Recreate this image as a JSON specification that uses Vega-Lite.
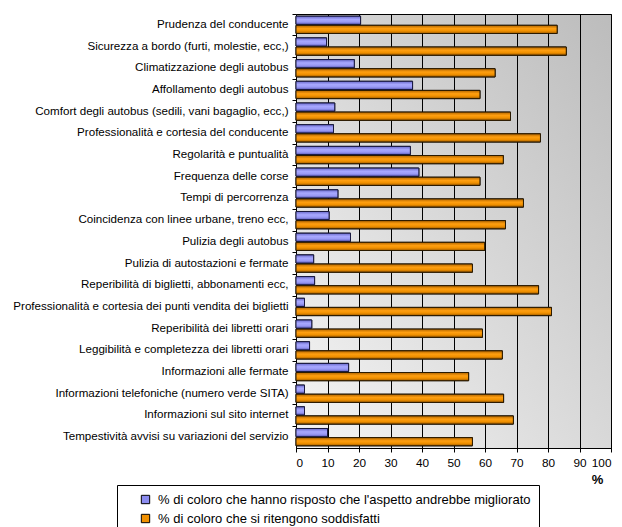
{
  "$schema": "https://vega.github.io/schema/vega-lite/v6.json",
  "width": 315,
  "height": 434,
  "autosize": {"type": "none"},
  "padding": {"left": 296, "top": 14, "right": 11, "bottom": 79},
  "background": "white",
  "config": {
    "font": "Liberation Sans",
    "view": {
      "stroke": "black",
      "strokeWidth": 1,
      "fill": {
        "gradient": "linear",
        "x1": 0, "y1": 1, "x2": 1, "y2": 0,
        "stops": [
          {"offset": 0, "color": "#f5f5f5"},
          {"offset": 1, "color": "#bcbcbc"}
        ]
      }
    },
    "axis": {
      "labelFont": "Liberation Sans",
      "labelColor": "black",
      "domainColor": "black",
      "tickColor": "black",
      "titleFont": "Liberation Sans"
    }
  },
  "data": {
    "values": [
      {"aspetto": "Prudenza del conducente", "serie": "% di coloro che hanno risposto che l'aspetto andrebbe migliorato", "valore": 20.5},
      {"aspetto": "Prudenza del conducente", "serie": "% di coloro che si ritengono soddisfatti", "valore": 82.9},
      {"aspetto": "Sicurezza a bordo (furti, molestie, ecc,)", "serie": "% di coloro che hanno risposto che l'aspetto andrebbe migliorato", "valore": 9.7},
      {"aspetto": "Sicurezza a bordo (furti, molestie, ecc,)", "serie": "% di coloro che si ritengono soddisfatti", "valore": 85.8},
      {"aspetto": "Climatizzazione degli autobus", "serie": "% di coloro che hanno risposto che l'aspetto andrebbe migliorato", "valore": 18.5},
      {"aspetto": "Climatizzazione degli autobus", "serie": "% di coloro che si ritengono soddisfatti", "valore": 63.2},
      {"aspetto": "Affollamento degli autobus", "serie": "% di coloro che hanno risposto che l'aspetto andrebbe migliorato", "valore": 37.0},
      {"aspetto": "Affollamento degli autobus", "serie": "% di coloro che si ritengono soddisfatti", "valore": 58.4},
      {"aspetto": "Comfort degli autobus (sedili, vani bagaglio, ecc,)", "serie": "% di coloro che hanno risposto che l'aspetto andrebbe migliorato", "valore": 12.3},
      {"aspetto": "Comfort degli autobus (sedili, vani bagaglio, ecc,)", "serie": "% di coloro che si ritengono soddisfatti", "valore": 68.1},
      {"aspetto": "Professionalità e cortesia del conducente", "serie": "% di coloro che hanno risposto che l'aspetto andrebbe migliorato", "valore": 11.9},
      {"aspetto": "Professionalità e cortesia del conducente", "serie": "% di coloro che si ritengono soddisfatti", "valore": 77.6},
      {"aspetto": "Regolarità e puntualità", "serie": "% di coloro che hanno risposto che l'aspetto andrebbe migliorato", "valore": 36.3},
      {"aspetto": "Regolarità e puntualità", "serie": "% di coloro che si ritengono soddisfatti", "valore": 65.8},
      {"aspetto": "Frequenza delle corse", "serie": "% di coloro che hanno risposto che l'aspetto andrebbe migliorato", "valore": 39.0},
      {"aspetto": "Frequenza delle corse", "serie": "% di coloro che si ritengono soddisfatti", "valore": 58.4},
      {"aspetto": "Tempi di percorrenza", "serie": "% di coloro che hanno risposto che l'aspetto andrebbe migliorato", "valore": 13.3},
      {"aspetto": "Tempi di percorrenza", "serie": "% di coloro che si ritengono soddisfatti", "valore": 72.2},
      {"aspetto": "Coincidenza con linee urbane, treno ecc,", "serie": "% di coloro che hanno risposto che l'aspetto andrebbe migliorato", "valore": 10.5},
      {"aspetto": "Coincidenza con linee urbane, treno ecc,", "serie": "% di coloro che si ritengono soddisfatti", "valore": 66.5},
      {"aspetto": "Pulizia degli autobus", "serie": "% di coloro che hanno risposto che l'aspetto andrebbe migliorato", "valore": 17.3},
      {"aspetto": "Pulizia degli autobus", "serie": "% di coloro che si ritengono soddisfatti", "valore": 59.9},
      {"aspetto": "Pulizia di autostazioni e fermate", "serie": "% di coloro che hanno risposto che l'aspetto andrebbe migliorato", "valore": 5.6},
      {"aspetto": "Pulizia di autostazioni e fermate", "serie": "% di coloro che si ritengono soddisfatti", "valore": 56.0},
      {"aspetto": "Reperibilità di biglietti, abbonamenti ecc,", "serie": "% di coloro che hanno risposto che l'aspetto andrebbe migliorato", "valore": 5.9},
      {"aspetto": "Reperibilità di biglietti, abbonamenti ecc,", "serie": "% di coloro che si ritengono soddisfatti", "valore": 77.0},
      {"aspetto": "Professionalità e cortesia dei punti vendita dei biglietti", "serie": "% di coloro che hanno risposto che l'aspetto andrebbe migliorato", "valore": 2.7},
      {"aspetto": "Professionalità e cortesia dei punti vendita dei biglietti", "serie": "% di coloro che si ritengono soddisfatti", "valore": 81.1},
      {"aspetto": "Reperibilità dei libretti orari", "serie": "% di coloro che hanno risposto che l'aspetto andrebbe migliorato", "valore": 5.0},
      {"aspetto": "Reperibilità dei libretti orari", "serie": "% di coloro che si ritengono soddisfatti", "valore": 59.2},
      {"aspetto": "Leggibilità e completezza dei libretti orari", "serie": "% di coloro che hanno risposto che l'aspetto andrebbe migliorato", "valore": 4.3},
      {"aspetto": "Leggibilità e completezza dei libretti orari", "serie": "% di coloro che si ritengono soddisfatti", "valore": 65.5},
      {"aspetto": "Informazioni alle fermate", "serie": "% di coloro che hanno risposto che l'aspetto andrebbe migliorato", "valore": 16.7},
      {"aspetto": "Informazioni alle fermate", "serie": "% di coloro che si ritengono soddisfatti", "valore": 54.8},
      {"aspetto": "Informazioni telefoniche (numero verde SITA)", "serie": "% di coloro che hanno risposto che l'aspetto andrebbe migliorato", "valore": 2.7},
      {"aspetto": "Informazioni telefoniche (numero verde SITA)", "serie": "% di coloro che si ritengono soddisfatti", "valore": 65.9},
      {"aspetto": "Informazioni sul sito internet", "serie": "% di coloro che hanno risposto che l'aspetto andrebbe migliorato", "valore": 2.7},
      {"aspetto": "Informazioni sul sito internet", "serie": "% di coloro che si ritengono soddisfatti", "valore": 69.0},
      {"aspetto": "Tempestività avvisi su variazioni del servizio", "serie": "% di coloro che hanno risposto che l'aspetto andrebbe migliorato", "valore": 10.0},
      {"aspetto": "Tempestività avvisi su variazioni del servizio", "serie": "% di coloro che si ritengono soddisfatti", "valore": 56.0}
    ]
  },
  "encoding": {
    "y": {
      "field": "aspetto",
      "type": "nominal",
      "sort": null,
      "scale": {"paddingInner": 0, "paddingOuter": 0},
      "axis": {
        "title": null,
        "bandPosition": 0,
        "labelFontSize": 11.6,
        "labelPadding": 4,
        "tickSize": 4,
        "labelLimit": 400,
        "grid": false,
        "domain": false
      }
    },
    "yOffset": {
      "field": "serie",
      "type": "nominal",
      "scale": {
        "domain": [
          "% di coloro che hanno risposto che l'aspetto andrebbe migliorato",
          "% di coloro che si ritengono soddisfatti"
        ],
        "paddingInner": 0.1,
        "paddingOuter": 0.24
      }
    },
    "x": {
      "field": "valore",
      "type": "quantitative",
      "scale": {"domain": [0, 100], "nice": false},
      "axis": {
        "title": "%",
        "titleFontSize": 13,
        "titleFontWeight": "bold",
        "titleAnchor": "end",
        "titleX": 301,
        "titleY": 25,
        "titleAlign": "center",
        "titleBaseline": "top",
        "values": [0, 10, 20, 30, 40, 50, 60, 70, 80, 90, 100],
        "labelFontSize": 11.8,
        "labelPadding": 5,
        "tickSize": 4,
        "grid": true,
        "gridColor": "black",
        "gridOpacity": 1,
        "gridWidth": 1
      }
    }
  },
  "layer": [
    {
      "mark": {"type": "bar", "stroke": "black", "strokeWidth": 1},
      "encoding": {
        "color": {
          "field": "serie",
          "type": "nominal",
          "scale": {
            "domain": [
              "% di coloro che hanno risposto che l'aspetto andrebbe migliorato",
              "% di coloro che si ritengono soddisfatti"
            ],
            "range": ["#8c8cf0", "#f09000"]
          },
          "legend": {
            "title": null,
            "orient": "none",
            "legendX": -179,
            "legendY": 471,
            "direction": "vertical",
            "strokeColor": "black",
            "fillColor": "white",
            "padding": 8,
            "symbolType": "square",
            "symbolSize": 70,
            "symbolOffset": 14,
            "labelOffset": 6,
            "symbolStrokeColor": "black",
            "symbolStrokeWidth": 1,
            "symbolOpacity": 1,
            "labelFontSize": 13,
            "labelFont": "Liberation Sans",
            "labelColor": "black",
            "labelLimit": 500,
            "rowPadding": 5,
            "offset": 0
          }
        }
      }
    },
    {
      "transform": [{"filter": "datum.serie === '% di coloro che hanno risposto che l\\'aspetto andrebbe migliorato'"}],
      "mark": {
        "type": "bar",
        "stroke": "#1a1a40",
        "strokeWidth": 1,
        "color": {
          "gradient": "linear",
          "x1": 0, "y1": 0, "x2": 0, "y2": 1,
          "stops": [
            {"offset": 0, "color": "#6a6acc"},
            {"offset": 0.4, "color": "#a8a8ff"},
            {"offset": 0.7, "color": "#9a9af5"},
            {"offset": 1, "color": "#5a5ab8"}
          ]
        }
      }
    },
    {
      "transform": [{"filter": "datum.serie === '% di coloro che si ritengono soddisfatti'"}],
      "mark": {
        "type": "bar",
        "stroke": "#2a1a00",
        "strokeWidth": 1,
        "color": {
          "gradient": "linear",
          "x1": 0, "y1": 0, "x2": 0, "y2": 1,
          "stops": [
            {"offset": 0, "color": "#b06400"},
            {"offset": 0.4, "color": "#ff9f10"},
            {"offset": 0.7, "color": "#f09000"},
            {"offset": 1, "color": "#9a5800"}
          ]
        }
      }
    }
  ]
}
